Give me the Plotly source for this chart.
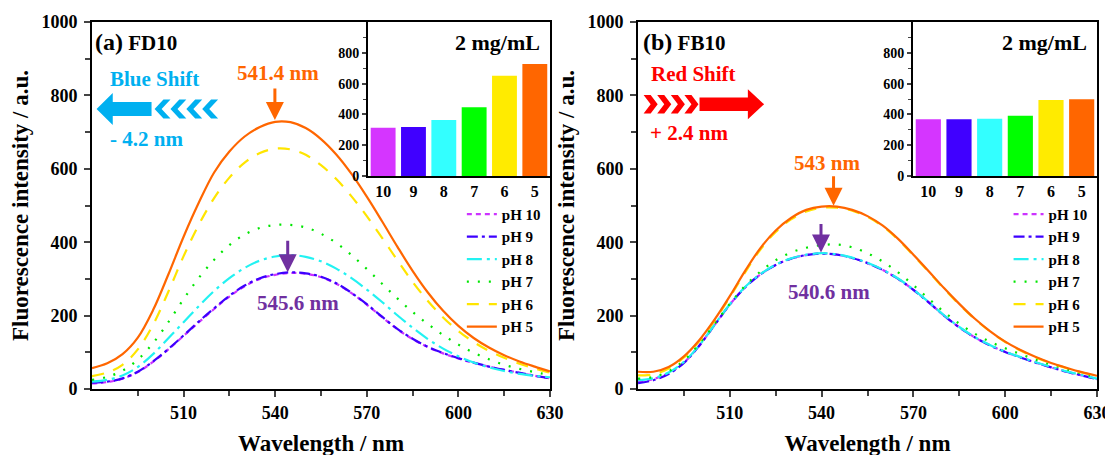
import plotly.graph_objects as go

# ---------------- data ----------------
wavelength = [480, 485, 490, 495, 500, 505, 510, 515, 520, 525, 530, 535, 540, 545, 550,
              555, 560, 565, 570, 575, 580, 585, 590, 595, 600, 605, 610, 615, 620, 625, 630]

ph_labels = ["pH 10", "pH 9", "pH 8", "pH 7", "pH 6", "pH 5"]
bar_categories = ["10", "9", "8", "7", "6", "5"]
x_ticks = [510, 540, 570, 600, 630]
y_ticks = [0, 200, 400, 600, 800, 1000]
inset_y_ticks = [0, 200, 400, 600, 800]

# Panel (a) FD10
fd10_ph10 = [15, 19, 28, 46, 74, 108, 145, 182, 218, 252, 280, 300, 311, 316, 314,
             305, 287, 261, 230, 196, 163, 136, 114, 97, 83, 71, 61, 52, 44, 36, 29]
fd10_ph9 = [17, 20, 29, 47, 75, 109, 146, 184, 220, 254, 282, 302, 313, 318, 315,
            306, 288, 262, 231, 197, 164, 137, 115, 98, 84, 72, 61, 52, 44, 36, 29]
fd10_ph8 = [20, 25, 37, 60, 95, 138, 182, 226, 267, 302, 330, 350, 361, 365, 360,
            348, 328, 302, 271, 237, 201, 167, 136, 110, 89, 72, 59, 49, 41, 36, 32]
fd10_ph7 = [25, 33, 50, 80, 125, 182, 245, 303, 352, 392, 421, 439, 447, 447, 440,
            423, 398, 365, 327, 287, 247, 210, 177, 147, 121, 99, 81, 66, 55, 46, 38]
fd10_ph6 = [35, 45, 66, 108, 175, 265, 362, 448, 520, 576, 617, 643, 655, 653, 638,
            610, 572, 525, 471, 412, 351, 292, 240, 195, 158, 128, 104, 85, 69, 56, 44]
fd10_ph5 = [57, 70, 95, 140, 215, 312, 415, 508, 590, 647, 688, 714, 728, 727, 711,
            681, 639, 586, 524, 457, 388, 322, 263, 213, 172, 139, 113, 92, 75, 61, 48]

# Panel (b) FB10
fb10_ph10 = [20, 27, 43, 72, 118, 174, 230, 277, 312, 338, 355, 365, 369, 366, 357,
             343, 324, 300, 270, 236, 200, 168, 141, 119, 101, 86, 72, 59, 47, 37, 27]
fb10_ph9 = [16, 24, 41, 71, 118, 174, 230, 277, 312, 338, 355, 365, 369, 366, 357,
            343, 324, 300, 270, 236, 200, 168, 141, 119, 101, 86, 72, 59, 47, 37, 27]
fb10_ph8 = [24, 29, 45, 74, 119, 175, 231, 278, 313, 339, 356, 366, 370, 367, 358,
            344, 325, 301, 271, 237, 201, 169, 142, 120, 102, 87, 73, 60, 48, 38, 28]
fb10_ph7 = [28, 33, 48, 78, 123, 177, 232, 281, 320, 351, 372, 385, 392, 394, 386,
            370, 347, 318, 283, 246, 210, 178, 151, 129, 111, 95, 80, 66, 54, 42, 32]
fb10_ph6 = [37, 40, 56, 86, 130, 186, 250, 318, 380, 428, 462, 484, 494, 494, 486,
            469, 443, 407, 364, 319, 273, 230, 191, 157, 128, 105, 86, 70, 57, 45, 35]
fb10_ph5 = [47, 47, 60, 89, 133, 189, 253, 322, 384, 432, 466, 488, 497, 497, 488,
            471, 445, 409, 366, 321, 275, 232, 192, 158, 129, 106, 87, 71, 58, 46, 36]

# inset bar values (peak intensity at 2 mg/mL)
fd10_bars = [314, 318, 364, 446, 651, 727]
fb10_bars = [369, 369, 371, 392, 494, 499]

# ---------------- styles ----------------
line_colors = ["#CC33FF", "#3D00FF", "#22F2F2", "#00E600", "#FFE500", "#FF6600"]
bar_colors = ["#D535FF", "#4000FF", "#33FFFF", "#00FF00", "#FFEB00", "#FF6600"]
dashes = ["5px,4px", "11px,4px,3px,4px", "15px,5px,3px,5px", "2px,9px", "12px,10px", "solid"]

FONT = "Liberation Serif"
BLUE = "#00B0F0"
RED = "#FF0000"
ORANGE = "#FF6600"
PURPLE = "#7030A0"

def b(s):
    return f"<b>{s}</b>"

fig = go.Figure()

panel_a = [fd10_ph10, fd10_ph9, fd10_ph8, fd10_ph7, fd10_ph6, fd10_ph5]
panel_b = [fb10_ph10, fb10_ph9, fb10_ph8, fb10_ph7, fb10_ph6, fb10_ph5]

for i, ys in enumerate(panel_a):
    fig.add_trace(go.Scatter(
        x=wavelength, y=ys, mode="lines", name=b(ph_labels[i]),
        line=dict(color=line_colors[i], width=2.2, dash=dashes[i], shape="spline", smoothing=1.0),
        xaxis="x", yaxis="y", legend="legend"))

for i, ys in enumerate(panel_b):
    fig.add_trace(go.Scatter(
        x=wavelength, y=ys, mode="lines", name=b(ph_labels[i]),
        line=dict(color=line_colors[i], width=2.2, dash=dashes[i], shape="spline", smoothing=1.0),
        xaxis="x2", yaxis="y2", legend="legend2"))

fig.add_trace(go.Bar(x=bar_categories, y=fd10_bars, marker=dict(color=bar_colors, line=dict(width=0)),
                     xaxis="x3", yaxis="y3", showlegend=False))
fig.add_trace(go.Bar(x=bar_categories, y=fb10_bars, marker=dict(color=bar_colors, line=dict(width=0)),
                     xaxis="x4", yaxis="y4", showlegend=False))

# ---------------- axes ----------------
tickfont = dict(family=FONT, size=18, color="black")
titlefont = dict(family=FONT, size=23, color="black")

def main_x(domain, anchor):
    return dict(domain=domain, anchor=anchor, range=[480, 630], automargin=False,
                tickvals=x_ticks, ticktext=[b(v) for v in x_ticks],
                ticks="outside", ticklen=6, tickwidth=1.5,
                minor=dict(tickvals=[495, 525, 555, 585, 615], ticks="outside", ticklen=5, tickwidth=1.5),
                showline=True, linewidth=2, linecolor="black", mirror=True, showgrid=False,
                zeroline=False, tickfont=tickfont,
                title=dict(text=b("Wavelength / nm"), font=titlefont, standoff=13))

def main_y(anchor):
    return dict(domain=[0, 1], anchor=anchor, range=[0, 1000], automargin=False,
                tickvals=y_ticks, ticktext=[b(v) for v in y_ticks],
                ticks="outside", ticklen=6, tickwidth=1.5, ticklabelstandoff=3,
                minor=dict(tickvals=[100, 300, 500, 700, 900], ticks="outside", ticklen=5, tickwidth=1.5),
                showline=True, linewidth=2, linecolor="black", mirror=True, showgrid=False,
                zeroline=False, tickfont=tickfont,
                title=dict(text=b("Fluorescence intensity / a.u."), font=titlefont, standoff=6))

def inset_x(domain, anchor):
    return dict(domain=domain, anchor=anchor, type="category", automargin=False,
                tickvals=bar_categories, ticktext=[b(c) for c in bar_categories],
                ticks="", showline=True, linewidth=2, linecolor="black", showgrid=False,
                tickfont=dict(family=FONT, size=16, color="black"))

def inset_y(anchor):
    return dict(domain=[0.5804, 1], anchor=anchor, range=[0, 1000], automargin=False,
                tickvals=inset_y_ticks, ticktext=[b(v) for v in inset_y_ticks],
                ticks="outside", ticklen=4, tickwidth=1.5,
                minor=dict(tickvals=[100, 300, 500, 700, 900], ticks="outside", ticklen=3, tickwidth=1.2),
                showline=True, linewidth=2, linecolor="black", showgrid=False, zeroline=False,
                tickfont=dict(family=FONT, size=14, color="black"))

legend_font = dict(family=FONT, size=15, color="black")

# the page adds an 8px body margin, so the figure is laid out 8px up/left
fig.update_layout(
    width=1113, height=455,
    margin=dict(l=84, r=24, t=14, b=74, autoexpand=False),
    paper_bgcolor="white", plot_bgcolor="rgba(0,0,0,0)",
    font=dict(family=FONT, color="black"),
    xaxis=main_x([0, 0.4557], "y"),
    yaxis=main_y("x"),
    xaxis2=main_x([0.5433, 1], "y2"),
    yaxis2=main_y("x2"),
    xaxis3=inset_x([0.2746, 0.4557], "y3"),
    yaxis3=inset_y("x3"),
    xaxis4=inset_x([0.8169, 1], "y4"),
    yaxis4=inset_y("x4"),
    bargap=0.18,
    legend=dict(x=0.368, y=0.521, xanchor="left", yanchor="top", bgcolor="rgba(0,0,0,0)",
                font=legend_font, tracegroupgap=0, itemwidth=30),
    legend2=dict(x=0.912, y=0.521, xanchor="left", yanchor="top", bgcolor="rgba(0,0,0,0)",
                 font=legend_font, tracegroupgap=0, itemwidth=30),
)

# ---------------- annotations ----------------
def txt(text, x, y, color, size, xref="x", yref="y", xanchor="center", yanchor="middle"):
    fig.add_annotation(text=b(text), x=x, y=y, xref=xref, yref=yref, showarrow=False,
                       xanchor=xanchor, yanchor=yanchor,
                       font=dict(family=FONT, size=size, color=color))

def down_arrow(x, y, color, xref, yref, length):
    fig.add_annotation(text="", x=x, y=y, xref=xref, yref=yref, showarrow=True,
                       ax=0, ay=-length, arrowhead=2, arrowsize=1.2, arrowwidth=3,
                       arrowcolor=color)

# panel (a)
fig.add_annotation(text="<b><span style='font-size:24px'>(a)</span> FD10</b>", x=480.4, y=946,
                   xref="x", yref="y", showarrow=False, xanchor="left", yanchor="middle",
                   font=dict(family=FONT, size=21, color="black"))
txt("Blue Shift", 485.3, 845, BLUE, 21, xanchor="left")
txt("- 4.2 nm", 485.3, 681, BLUE, 21, xanchor="left")
txt("541.4 nm", 541, 861, ORANGE, 21)
down_arrow(539.9, 733, ORANGE, "x", "y", 33)
txt("545.6 nm", 547.5, 234, PURPLE, 21)
down_arrow(544.1, 318, PURPLE, "x", "y", 33)
txt("2 mg/mL", 0.956, 0.87, "black", 22, xref="x3 domain", yref="y3 domain", xanchor="right")

# panel (b)
fig.add_annotation(text="<b><span style='font-size:24px'>(b)</span> FB10</b>", x=481.1, y=946,
                   xref="x2", yref="y2", showarrow=False, xanchor="left", yanchor="middle",
                   font=dict(family=FONT, size=21, color="black"))
txt("Red Shift", 483.6, 858, RED, 21, xref="x2", yref="y2", xanchor="left")
txt("+ 2.4 nm", 483.3, 697, RED, 21, xref="x2", yref="y2", xanchor="left")
txt("543 nm", 541.8, 616, ORANGE, 21, xref="x2", yref="y2")
down_arrow(543.9, 499, ORANGE, "x2", "y2", 31)
txt("540.6 nm", 542.4, 265, PURPLE, 21, xref="x2", yref="y2")
down_arrow(539.8, 372, PURPLE, "x2", "y2", 30)
txt("2 mg/mL", 0.956, 0.87, "black", 22, xref="x4 domain", yref="y4 domain", xanchor="right")

# ---------------- block arrows ----------------
def poly(pts):
    return "M " + " L ".join(f"{px},{py}" for px, py in pts) + " Z"

def add_shape(path, color, xref, yref):
    fig.add_shape(type="path", path=path, xref=xref, yref=yref,
                  fillcolor=color, line=dict(width=0), layer="above")

# blue arrow pointing left (panel a)
yc = 763
add_shape(poly([(481.5, yc), (486.8, yc + 43.6), (486.8, yc + 19), (499.5, yc + 19),
                (499.5, yc - 19), (486.8, yc - 19), (486.8, yc - 43.6)]), BLUE, "x", "y")
for xt in [500.5, 505.7, 510.9, 516.1]:
    a, t, h = 2.9, 2.3, 26
    add_shape(poly([(xt, yc), (xt + a, yc + h), (xt + a + t, yc + h), (xt + t, yc),
                    (xt + a + t, yc - h), (xt + a, yc - h)]), BLUE, "x", "y")

# red arrow pointing right (panel b)
yc = 776
for x0 in [481.83, 486.27, 490.72, 495.16]:
    a, t, h = 2.3, 2.3, 25
    add_shape(poly([(x0, yc + h), (x0 + t, yc + h), (x0 + t + a, yc), (x0 + t, yc - h),
                    (x0, yc - h), (x0 + a, yc)]), RED, "x2", "y2")
add_shape(poly([(500.1, yc + 18.3), (515.9, yc + 18.3), (515.9, yc + 41), (521.2, yc),
                (515.9, yc - 41), (515.9, yc - 18.3), (500.1, yc - 18.3)]), RED, "x2", "y2")

fig.write_html("out.html")
